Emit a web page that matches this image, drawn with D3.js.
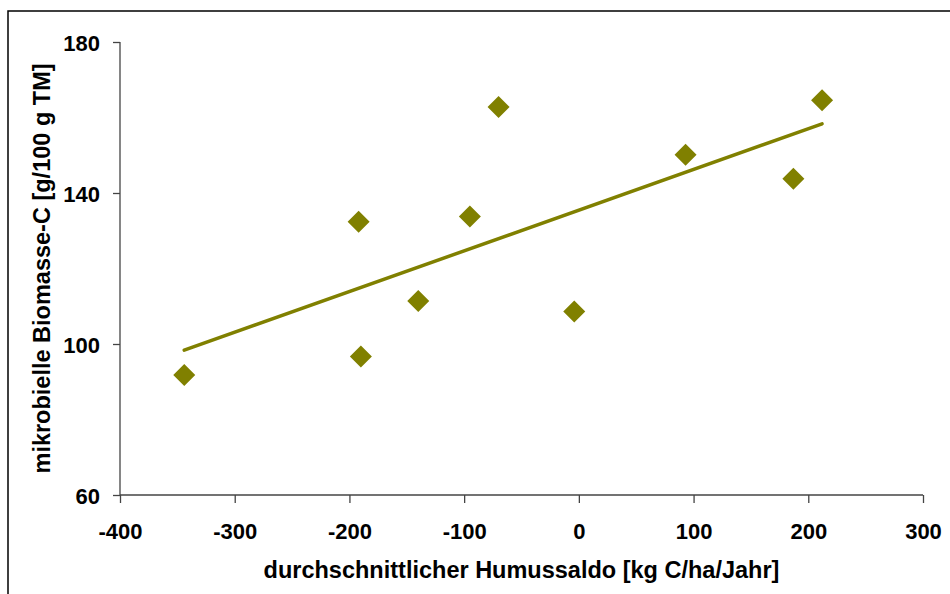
<!DOCTYPE html>
<html>
<head>
<meta charset="utf-8">
<script src="https://cdn.jsdelivr.net/npm/d3@7"></script>
<style>
  body { margin: 0; background: #fff; }
  text { font-family: "Liberation Sans", Arial, sans-serif; font-weight: bold; fill: #000; }
</style>
</head>
<body>
<div id="chart"></div>
<script>
// Humussaldo [kg C/ha/Jahr] vs. mikrobielle Biomasse-C
var humussaldo = [-344, -192, -70, -95, -140, -190, -4, 93, 187, 212];
var biomasseC  = [91.8, 132.4, 162.8, 133.8, 111.4, 96.7, 108.6, 150.1, 143.8, 164.6];
var xTicks = [-400, -300, -200, -100, 0, 100, 200, 300];
var yTicks = [60, 100, 140, 180];

var W = 950, H = 594;
var margin = {top: 42, right: 27, bottom: 99, left: 120},
    width = W - margin.left - margin.right,
    height = H - margin.top - margin.bottom;

var data = humussaldo.map(function(x, i) { return {x: x, y: biomasseC[i]}; });

var xScale = d3.scaleLinear().domain([-400, 300]).range([0, width]);
var yScale = d3.scaleLinear().domain([60, 180]).range([height, 0]);

var svg = d3.select("#chart").append("svg").attr("width", W).attr("height", H);

// outer frame (cut by the right and bottom edges)
svg.append("rect").attr("x", 8).attr("y", 11).attr("width", W).attr("height", H)
    .style("fill", "none").style("stroke", "#000").style("stroke-width", 1.5);

var g = svg.append("g").attr("transform", "translate(" + margin.left + "," + margin.top + ")");

//---- axes (plain hyphen as minus, like the original)
var fmt = function(d) { return String(d); };
var xAxis = d3.axisBottom(xScale).tickValues(xTicks).tickSize(8).tickFormat(fmt);
var yAxis = d3.axisLeft(yScale).tickValues(yTicks).tickSize(7).tickPadding(13).tickFormat(fmt);

var gx = g.append("g").attr("transform", "translate(0," + height + ")").call(xAxis);
var gy = g.append("g").call(yAxis);
[gx, gy].forEach(function(ax) {
    ax.attr("font-size", null).attr("font-family", null);
    ax.select(".domain").style("stroke", "#444").style("stroke-width", 1.3);
    ax.selectAll(".tick line").style("stroke", "#444").style("stroke-width", 1.3);
    ax.selectAll(".tick text").style("font-size", "22px").attr("fill", "#000");
});
gx.selectAll(".tick text").attr("y", 44).attr("dy", 0);
gy.selectAll(".tick text").attr("dy", "0.4em");
gx.select(".domain").attr("d", "M0,0H" + width);
gy.select(".domain").attr("d", "M0," + height + "V0");

//---- axis titles
g.append("text").attr("x", width / 2).attr("y", height + 83)
    .attr("text-anchor", "middle").style("font-size", "23.5px")
    .text("durchschnittlicher Humussaldo [kg C/ha/Jahr]");
g.append("text").attr("transform", "rotate(-90)")
    .attr("x", -height / 2).attr("y", -70)
    .attr("text-anchor", "middle").style("font-size", "23.5px")
    .text("mikrobielle Biomasse-C [g/100 g TM]");

//---- linear trend (least squares)
var mx = d3.mean(data, function(d) { return d.x; }),
    my = d3.mean(data, function(d) { return d.y; });
var slope = d3.sum(data, function(d) { return (d.x - mx) * (d.y - my); }) /
            d3.sum(data, function(d) { return (d.x - mx) * (d.x - mx); });
var x0 = d3.min(data, function(d) { return d.x; }),
    x1 = d3.max(data, function(d) { return d.x; });
var trend = [{x: x0, y: my + slope * (x0 - mx)}, {x: x1, y: my + slope * (x1 - mx)}];

g.append("path").datum(trend)
    .attr("d", d3.line().x(function(d) { return xScale(d.x); }).y(function(d) { return yScale(d.y); }))
    .style("fill", "none").style("stroke", "#808000").style("stroke-width", 3.5)
    .style("stroke-linecap", "round");

//---- points
g.selectAll(".pt").data(data).enter().append("path")
    .attr("class", "pt")
    .attr("transform", function(d) { return "translate(" + xScale(d.x) + "," + yScale(d.y) + ")"; })
    .attr("d", "M0,-11L11,0L0,11L-11,0Z")
    .style("fill", "#808000");
</script>
</body>
</html>
